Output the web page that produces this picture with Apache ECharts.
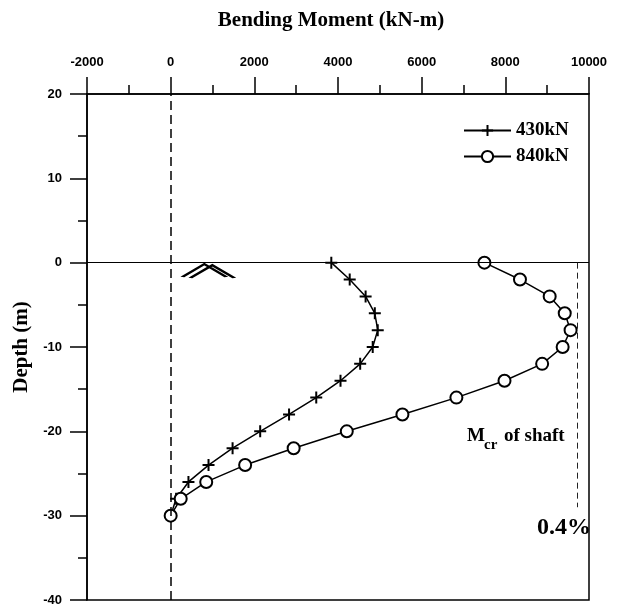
<!DOCTYPE html>
<html>
<head>
<meta charset="utf-8">
<script src="https://cdn.jsdelivr.net/npm/echarts@6/dist/echarts.min.js"></script>
<style>
html, body { margin: 0; padding: 0; background: #fff; }
#main { width: 619px; height: 605px; }
</style>
</head>
<body>
<div id="main"></div>
<script>
// depth below ground surface (m)
var depth = [0, -2, -4, -6, -8, -10, -12, -14, -16, -18, -20, -22, -24, -26, -28, -30];
// bending moment (kN-m) for each load
var moment430 = [3840, 4280, 4660, 4880, 4950, 4830, 4530, 4060, 3480, 2830, 2140, 1480, 905, 425, 130, 0];
var moment840 = [7500, 8350, 9060, 9420, 9560, 9370, 8880, 7980, 6830, 5540, 4210, 2940, 1780, 850, 240, 0];
var loadNames = ['430kN', '840kN'];
// axis ranges
var xMin = -2000, xMax = 10000, xStep = 2000;
var yMin = -40, yMax = 20, yStep = 10;
// cracking moment of shaft, drawn from the ground down
var mcrValue = 9720;
var mcrEnd = -29;
// ground surface sign
var groundMark = [900, -1];

var serif = 'Liberation Serif';
var sans = 'Liberation Sans';

function pairs(xs) {
  return depth.map(function (d, i) { return [xs[i], d]; });
}

var chart = echarts.init(document.getElementById('main'));
chart.setOption({
  animation: false,
  backgroundColor: '#fff',
  grid: {
    left: 87, right: 30, top: 94, bottom: 5,
    show: true, borderColor: '#000', borderWidth: 1.5,
    outerBoundsMode: 'none'
  },
  legend: {
    orient: 'vertical',
    left: 458, top: 116,
    itemWidth: 47, itemHeight: 14, itemGap: 7,
    textStyle: { fontFamily: serif, fontWeight: 'bold', fontSize: 19, color: '#000' },
    data: loadNames
  },
  xAxis: {
    type: 'value',
    position: 'top',
    min: xMin, max: xMax, interval: xStep,
    name: 'Bending Moment (kN-m)',
    nameLocation: 'middle',
    nameGap: 63,
    nameTextStyle: { fontFamily: serif, fontWeight: 'bold', fontSize: 21, color: '#000', padding: [0, 14, 0, 0] },
    axisLine: { show: true, onZero: false, lineStyle: { color: '#000', width: 1.5 } },
    axisTick: { show: true, inside: false, length: 17, lineStyle: { color: '#000', width: 1.5 } },
    minorTick: { show: true, splitNumber: 2, length: 9, lineStyle: { color: '#000', width: 1.5 } },
    axisLabel: { margin: 25, fontFamily: sans, fontSize: 13, fontWeight: 'bold', color: '#000', formatter: function (v) { return String(v); } },
    splitLine: { show: false },
    minorSplitLine: { show: false }
  },
  yAxis: {
    type: 'value',
    min: yMin, max: yMax, interval: yStep,
    name: 'Depth (m)',
    nameLocation: 'middle',
    nameGap: 52,
    nameTextStyle: { fontFamily: serif, fontWeight: 'bold', fontSize: 21, color: '#000' },
    axisLine: { show: true, onZero: false, lineStyle: { color: '#000', width: 1.5 } },
    axisTick: { show: true, inside: false, length: 17, lineStyle: { color: '#000', width: 1.5 } },
    minorTick: { show: true, splitNumber: 2, length: 9, lineStyle: { color: '#000', width: 1.5 } },
    axisLabel: { margin: 25, fontFamily: sans, fontSize: 13, fontWeight: 'bold', color: '#000', formatter: function (v) { return String(v); } },
    splitLine: { show: false },
    minorSplitLine: { show: false }
  },
  series: [
    {
      name: loadNames[0],
      type: 'line',
      data: pairs(moment430),
      symbol: 'path://M0,6H12M6,0V12',
      symbolSize: 12,
      lineStyle: { color: '#000', width: 1.5 },
      itemStyle: { color: 'transparent', borderColor: '#000', borderWidth: 2 },
      markLine: {
        silent: true,
        symbol: 'none',
        label: { show: false },
        data: [
          { yAxis: 0, lineStyle: { color: '#000', width: 1.2, type: 'solid' } },
          { xAxis: 0, lineStyle: { color: '#000', width: 1.5, type: [9, 5] } },
          [
            { coord: [mcrValue, 0], lineStyle: { color: '#222', width: 1, type: [6, 4] } },
            { coord: [mcrValue, mcrEnd] }
          ]
        ]
      }
    },
    {
      name: loadNames[1],
      type: 'line',
      data: pairs(moment840),
      symbol: 'emptyCircle',
      symbolSize: 12,
      lineStyle: { color: '#000', width: 1.5 },
      itemStyle: { color: '#000', borderColor: '#000', borderWidth: 1.8 }
    },
    {
      name: 'ground',
      type: 'scatter',
      silent: true,
      data: [groundMark],
      symbol: 'path://M0,12L22,0L44,12M8,13L30,1L52,13',
      symbolSize: [52, 14],
      itemStyle: { color: 'transparent', borderColor: '#000', borderWidth: 2.2, opacity: 1 }
    }
  ],
  graphic: [
    { type: 'text', x: 467, y: 446, style: { text: 'M', fontFamily: serif, fontWeight: 'bold', fontSize: 19, fill: '#000', verticalAlign: 'bottom' } },
    { type: 'text', x: 484, y: 453, style: { text: 'cr', fontFamily: serif, fontWeight: 'bold', fontSize: 15, fill: '#000', verticalAlign: 'bottom' } },
    { type: 'text', x: 504, y: 446, style: { text: 'of shaft', fontFamily: serif, fontWeight: 'bold', fontSize: 19, fill: '#000', verticalAlign: 'bottom' } },
    { type: 'text', x: 591, y: 528, style: { text: '0.4%', fontFamily: serif, fontWeight: 'bold', fontSize: 24, fill: '#000', align: 'right', verticalAlign: 'middle' } }
  ]
});
</script>
</body>
</html>
